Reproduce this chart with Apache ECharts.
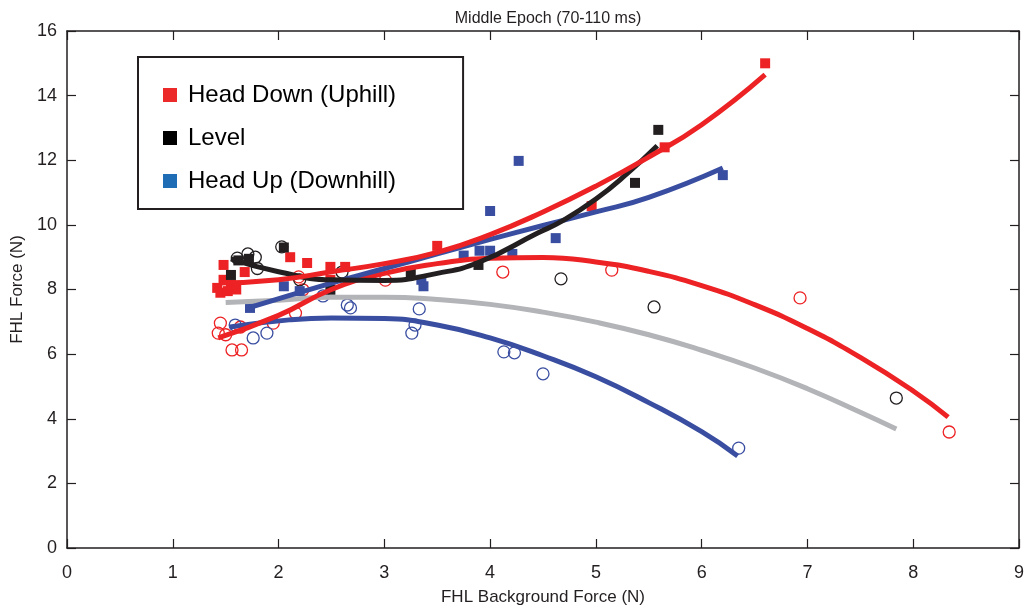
<!DOCTYPE html>
<html>
<head>
<meta charset="utf-8">
<script src="https://cdn.jsdelivr.net/npm/echarts@6/dist/echarts.min.js"></script>
<style>html,body{margin:0;padding:0;background:#fff;}#c{width:1031px;height:608px;}</style>
</head>
<body>
<div id="c"></div>
<script>
// ---- data ----
const title = 'Middle Epoch (70-110 ms)';
const xName = 'FHL Background Force (N)';
const yName = 'FHL Force (N)';
const legendNames = ['Head Down (Uphill)', 'Level', 'Head Up (Downhill)'];

// Head Down (Uphill): filled squares
const downSquares = [[1.42,8.05],[1.45,7.9],[1.48,8.3],[1.48,8.76],[1.52,7.95],[1.55,8.15],[1.6,8.0],[1.68,8.54],[2.11,9.0],[2.27,8.82],[2.49,8.7],[2.49,8.3],[2.63,8.7],[3.5,9.35],[4.96,10.58],[5.65,12.4],[6.6,15.0]];
// Head Down (Uphill): open circles
const downCircles = [[1.43,6.65],[1.45,6.96],[1.5,6.6],[1.56,6.13],[1.65,6.13],[1.64,6.84],[1.95,6.96],[2.16,7.27],[2.19,8.39],[2.23,7.99],[3.01,8.29],[4.12,8.54],[5.15,8.6],[6.93,7.74],[8.34,3.59]];
// Level: filled squares
const levelSquares = [[1.55,8.45],[1.62,8.9],[1.72,8.95],[2.05,9.3],[2.49,7.99],[3.25,8.54],[3.89,8.76],[5.37,11.3],[5.59,12.94]];
// Level: open circles
const levelCircles = [[1.61,8.97],[1.71,9.1],[1.78,9.0],[1.8,8.65],[2.03,9.32],[2.2,8.3],[2.6,8.54],[4.67,8.33],[5.55,7.46],[7.84,4.64]];
// Head Up (Downhill): filled squares
const upSquares = [[1.73,7.43],[2.05,8.1],[2.2,7.95],[3.37,8.1],[3.35,8.3],[3.75,9.05],[3.9,9.2],[4.0,10.43],[4.0,9.2],[4.21,9.1],[4.27,11.98],[4.62,9.59],[6.2,11.54]];
// Head Up (Downhill): open circles
const upCircles = [[1.59,6.9],[1.76,6.5],[1.89,6.65],[2.42,7.8],[2.65,7.52],[2.68,7.43],[3.26,6.65],[3.29,6.9],[3.33,7.4],[4.13,6.07],[4.23,6.04],[4.5,5.39],[6.35,3.09]];

// fitted curves, points
const downSquareFit = [[1.45,8.2],[2.0,8.3],[2.5,8.55],[3.0,8.8],[3.5,9.15],[4.0,9.7],[4.5,10.4],[5.0,11.2],[5.5,12.1],[6.0,13.1],[6.6,14.65]];
const downCircleFit = [[1.43,6.5],[2.0,7.2],[2.5,8.0],[3.0,8.5],[3.5,8.8],[4.0,8.97],[4.5,8.99],[5.0,8.85],[5.5,8.56],[6.0,8.12],[6.5,7.53],[7.0,6.79],[7.5,5.9],[8.0,4.86],[8.33,4.05]];
const levelSquareFit = [[1.55,8.95],[2.0,8.55],[2.5,8.3],[3.0,8.28],[3.5,8.5],[3.9,8.85],[4.45,9.75],[4.67,10.1],[5.0,10.8],[5.3,11.6],[5.58,12.45]];
const levelCircleFit = [[1.5,7.6],[2.0,7.67],[2.5,7.76],[3.0,7.76],[3.5,7.69],[4.0,7.54],[4.5,7.3],[5.0,6.99],[5.5,6.6],[6.0,6.12],[6.5,5.57],[7.0,4.93],[7.5,4.2],[7.84,3.68]];
const upSquareFit = [[1.73,7.45],[2.5,8.2],[3.0,8.65],[3.5,9.1],[4.0,9.55],[4.5,9.98],[5.0,10.4],[5.5,10.85],[6.2,11.76]];
const upCircleFit = [[1.54,6.84],[2.1,7.06],[2.5,7.12],[3.0,7.1],[3.5,6.9],[4.0,6.5],[4.5,5.95],[5.0,5.3],[5.5,4.5],[6.0,3.6],[6.34,2.85]];

const xTicks = [0,1,2,3,4,5,6,7,8,9];
const yTicks = [0,2,4,6,8,10,12,14,16];

// ---- style ----
const RED = '#ED2224', BLACK = '#231F20', BLUE = '#3A4EA1', GRAY = '#B3B4B7';
const FONT = "'Liberation Sans', Arial, Helvetica, sans-serif";
const AX = BLACK;

function sq(name, data, color) {
  return { name, type: 'scatter', data, symbol: 'rect', symbolSize: 10, itemStyle: { color, opacity: 1 }, z: 2 };
}
function circ(name, data, color) {
  return { name, type: 'scatter', data, symbol: 'circle', symbolSize: 12,
    itemStyle: { color: 'rgba(0,0,0,0)', borderColor: color, borderWidth: 1.3, opacity: 1 }, z: 2 };
}
function fit(name, data, color) {
  return { name, type: 'line', data, smooth: true, showSymbol: false, symbol: 'none',
    lineStyle: { color, width: 5, cap: 'butt' }, z: 3, silent: true };
}

const chart = echarts.init(document.getElementById('c'), null, { renderer: 'canvas' });
const commonAxis = {
  axisLine: { show: true, onZero: false, lineStyle: { color: AX, width: 1.5 } },
  axisTick: { show: true, inside: true, length: 9, lineStyle: { color: AX, width: 1.2 } },
  splitLine: { show: false }
};
chart.setOption({
  animation: false,
  backgroundColor: '#fff',
  title: { text: title, left: 543, top: 6, textAlign: 'center',
    textStyle: { fontFamily: FONT, fontSize: 16, fontWeight: 'normal', color: BLACK } },
  grid: { left: 67, right: 12, top: 31, bottom: 60, containLabel: false, outerBoundsMode: 'none' },
  legend: {
    data: [
      { name: legendNames[0], itemStyle: { color: '#ED2A2A', opacity: 1 } },
      { name: legendNames[1], itemStyle: { color: '#000000', opacity: 1 } },
      { name: legendNames[2], itemStyle: { color: '#1F6DB4', opacity: 1 } }
    ],
    orient: 'vertical', left: 138, top: 57,
    padding: [26, 67, 16, 25],
    itemGap: 19, itemWidth: 14, itemHeight: 14, icon: 'rect',
    borderColor: BLACK, borderWidth: 2, backgroundColor: '#fff',
    textStyle: { fontFamily: FONT, fontSize: 24, color: '#000', padding: [0, 0, 0, 6] },
    selectedMode: false
  },
  xAxis: [
    Object.assign({ type: 'value', min: 0, max: 9, interval: 1, position: 'bottom',
      name: xName, nameLocation: 'middle', nameGap: 41,
      nameTextStyle: { fontFamily: FONT, fontSize: 17, color: BLACK },
      axisLabel: { fontFamily: FONT, fontSize: 18, color: BLACK, margin: 16,
        formatter: v => xTicks.includes(v) ? String(v) : '' } }, commonAxis),
    Object.assign({ type: 'value', min: 0, max: 9, interval: 1, position: 'top',
      axisLabel: { show: false } }, commonAxis)
  ],
  yAxis: [
    Object.assign({ type: 'value', min: 0, max: 16, interval: 2, position: 'left',
      name: yName, nameLocation: 'middle', nameGap: 38, nameRotate: 90,
      nameTextStyle: { fontFamily: FONT, fontSize: 17, color: BLACK },
      axisLabel: { fontFamily: FONT, fontSize: 18, color: BLACK, margin: 10,
        formatter: v => yTicks.includes(v) ? String(v) : '' } }, commonAxis),
    Object.assign({ type: 'value', min: 0, max: 16, interval: 2, position: 'right',
      axisLabel: { show: false } }, commonAxis)
  ],
  series: [
    circ('downC', downCircles, RED),
    circ('levelC', levelCircles, BLACK),
    circ('upC', upCircles, BLUE),
    sq(legendNames[0], downSquares, RED),
    sq(legendNames[1], levelSquares, BLACK),
    sq(legendNames[2], upSquares, BLUE),
    fit('levelCFit', levelCircleFit, GRAY),
    fit('upCFit', upCircleFit, BLUE),
    fit('downCFit', downCircleFit, RED),
    fit('upSFit', upSquareFit, BLUE),
    fit('levelSFit', levelSquareFit, BLACK),
    fit('downSFit', downSquareFit, RED)
  ]
});
</script>
</body>
</html>
